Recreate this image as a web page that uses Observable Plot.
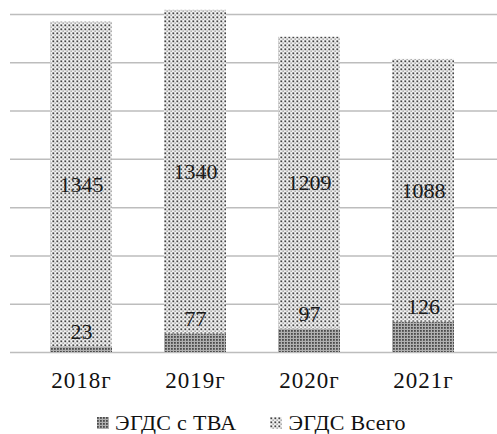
<!DOCTYPE html>
<html>
<head>
<meta charset="utf-8">
<script src="https://cdn.jsdelivr.net/npm/d3@7"></script>
<script src="https://cdn.jsdelivr.net/npm/@observablehq/plot@0.6"></script>
<style>
  body { margin: 0; background: #fff; font-family: 'Liberation Serif', 'DejaVu Serif', serif; }
  #chart svg { display: block; }
  #chart g[aria-label="x-axis tick label"] text { letter-spacing: 1px; }
  #defs { position: absolute; width: 0; height: 0; }
  .legend { display: flex; justify-content: center; align-items: center; margin-top: 12px; margin-left: 6px;
            font-size: 22px; line-height: 22px; color: #111; letter-spacing: 0.3px; }
  .item { display: flex; align-items: center; }
  .item + .item { margin-left: 34px; }
  .swatch { width: 12px; height: 12px; margin-right: 6px; }
</style>
</head>
<body>
<!-- fill patterns shared by the bars and the legend swatches -->
<svg id="defs" aria-hidden="true">
  <defs>
    <pattern id="pat-tva" width="3" height="3" patternUnits="userSpaceOnUse">
      <rect width="3" height="3" fill="#b0b0b0"></rect>
      <rect x="0" y="0" width="1.8" height="1.8" fill="#4a4a4a"></rect>
    </pattern>
    <pattern id="pat-total" width="4" height="4" patternUnits="userSpaceOnUse">
      <rect width="4" height="4" fill="#f2f2f2"></rect>
      <rect x="0.4" y="0.4" width="1.8" height="1.8" fill="#444"></rect>
      <rect x="2.5" y="2.5" width="1.3" height="1.3" fill="#8c8c8c"></rect>
    </pattern>
  </defs>
</svg>
<div id="chart"></div>
<div class="legend" id="legend"></div>
<script>
// Upper GI endoscopies per year
const years = ["2018г", "2019г", "2020г", "2021г"];
const seriesNames = ["ЭГДС с ТВА", "ЭГДС Всего"];
const tvaValues = [23, 77, 97, 126];
const totalValues = [1345, 1340, 1209, 1088];
const gridTicks = [0, 200, 400, 600, 800, 1000, 1200, 1400];
const patterns = ["url(#pat-tva)", "url(#pat-total)"];
const serif = "'Liberation Serif', 'DejaVu Serif', serif";

const rows = years.flatMap((year, i) => [
  {year, series: seriesNames[0], value: tvaValues[i]},
  {year, series: seriesNames[1], value: totalValues[i]}
]);
const tvaRows = rows.filter(d => d.series === seriesNames[0]);

const chart = Plot.plot({
  width: 497,
  height: 400,
  marginTop: 14,
  marginBottom: 48,
  marginLeft: 10,
  marginRight: 0,
  style: {fontFamily: serif, background: "transparent"},
  x: {domain: years, range: [22.6, 481.4], paddingInner: 0.46, paddingOuter: 0.23, label: null},
  y: {domain: [0, 1400], axis: null},
  color: {domain: seriesNames, range: patterns},
  marks: [
    Plot.ruleY(gridTicks, {stroke: "#bdbdbd", strokeWidth: 1.5}),
    Plot.barY(rows, {x: "year", y: "value", fill: "series", order: seriesNames}),
    Plot.axisX({tickSize: 0, tickPadding: 19, fontSize: 23, fontFamily: serif, fill: "#111", label: null}),
    // labels for the total series, centred in its segment
    Plot.text(rows, Plot.stackY({
      x: "year", y: "value", z: "series", order: seriesNames,
      text: d => d.series === seriesNames[1] ? String(d.value) : null,
      fontSize: 22, fontFamily: serif, fill: "#1a1a1a"
    })),
    // labels for the ТВА series, just above its segment
    Plot.text(tvaRows, {
      x: "year", y: "value", text: d => String(d.value),
      lineAnchor: "bottom", dy: -8, fontSize: 22, fontFamily: serif, fill: "#1a1a1a"
    })
  ]
});
document.getElementById("chart").append(chart);

// legend
const legend = document.getElementById("legend");
seriesNames.forEach((name, i) => {
  const item = document.createElement("div");
  item.className = "item";
  const sw = document.createElementNS("http://www.w3.org/2000/svg", "svg");
  sw.setAttribute("class", "swatch");
  sw.setAttribute("width", 12);
  sw.setAttribute("height", 12);
  const r = document.createElementNS("http://www.w3.org/2000/svg", "rect");
  r.setAttribute("width", 12);
  r.setAttribute("height", 12);
  r.setAttribute("fill", patterns[i]);
  sw.append(r);
  const label = document.createElement("span");
  label.textContent = name;
  item.append(sw, label);
  legend.append(item);
});
</script>
</body>
</html>
